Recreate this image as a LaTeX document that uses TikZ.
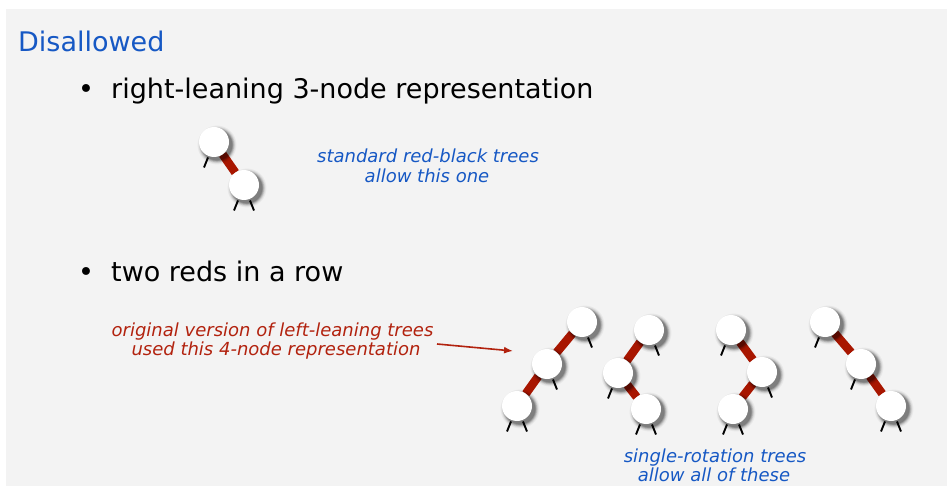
\documentclass[tikz,border=0pt]{standalone}
\usepackage{fontspec}
\setmainfont{DejaVu Sans}
\usetikzlibrary{arrows.meta}
\pgfdeclarelayer{bgl}
\pgfdeclarelayer{edges}
\pgfdeclarelayer{shade}
\pgfsetlayers{bgl,edges,shade,main}
\definecolor{slidegray}{RGB}{243,243,243}
\definecolor{titleblue}{RGB}{22,88,196}
\definecolor{notered}{RGB}{178,34,14}
\definecolor{edgered}{RGB}{168,22,0}
\newcommand\legLeft[1]{\draw[legline] ([shift={(-6,15.5)}]#1.center) -- ([shift={(-10,25.5)}]#1.center);}
\newcommand\legRight[1]{\draw[legline] ([shift={(6,15.5)}]#1.center) -- ([shift={(10,25.5)}]#1.center);}
\newcommand\softShadow[1]{%
  \foreach \rr/\oo in {19.5/0.04,18.5/0.05,17.8/0.07,17.2/0.08,16.6/0.1,16/0.12,15.4/0.14}{%
    \fill[black, opacity=\oo] ([shift={(3,3)}]#1.center) circle (\rr pt);}}
\begin{document}
\begin{tikzpicture}[x=1pt,y=-1pt,
  rb/.style={circle, fill=white, minimum size=30pt, inner sep=0pt},
  redlink/.style={draw=edgered, line width=8.5pt},
  legline/.style={draw=black, line width=1.9pt},
  bigtext/.style={font=\fontsize{27}{32}\selectfont, inner sep=0pt, anchor=base west},
  bulletmark/.style={font=\fontsize{27}{32}\selectfont, inner sep=0pt, anchor=base},
  bluenote/.style={font=\fontsize{18}{20}\selectfont\itshape, text=titleblue, inner sep=0pt, anchor=base},
  rednote/.style={font=\fontsize{18}{20}\selectfont\itshape, text=notered, inner sep=0pt, anchor=base},
  pointer/.style={draw=notered, line width=1.6pt, -{Latex[length=9pt,width=7pt]}}
]
\useasboundingbox (0,0) rectangle (947,486);
\begin{pgfonlayer}{bgl}
  \fill[white] (0,0) rectangle (947,486);
  \fill[slidegray] (6,9) rectangle (947,486);
\end{pgfonlayer}

% texts
\node[bigtext, text=titleblue] (title) at (18,51.5) {Disallowed};
\node[bulletmark] (b1) at (86,98.5) {•};
\node[bigtext] (t1) at (111,98.5) {right-leaning 3-node representation};
\node[bulletmark] (b2) at (86,281.5) {•};
\node[bigtext] (t2) at (111,281.5) {two reds in a row};

\node[bluenote] (s1) at (428,163) {standard red-black trees};
\node[bluenote] (s2) at (427,183) {allow this one};

\node[rednote] (o1) at (272.5,336) {original version of left-leaning trees};
\node[rednote] (o2) at (276,355) {used this 4-node representation};

\node[bluenote] (r1) at (715,462.5) {single-rotation trees};
\node[bluenote] (r2) at (714,481) {allow all of these};

% nodes
\node[rb] (A) at (214,142) {};
\node[rb] (B) at (244,185) {};

\node[rb] (p1) at (582,322) {};
\node[rb] (p2) at (547,364) {};
\node[rb] (p3) at (517,406) {};

\node[rb] (q1) at (649,330) {};
\node[rb] (q2) at (618,373) {};
\node[rb] (q3) at (646,409) {};

\node[rb] (u1) at (731,330) {};
\node[rb] (u2) at (762,372) {};
\node[rb] (u3) at (733,409) {};

\node[rb] (v1) at (825,322) {};
\node[rb] (v2) at (861,364) {};
\node[rb] (v3) at (891,406) {};

\begin{pgfonlayer}{shade}
  \foreach \nn in {A,B,p1,p2,p3,q1,q2,q3,u1,u2,u3,v1,v2,v3}{\softShadow{\nn}}
\end{pgfonlayer}

\begin{pgfonlayer}{edges}
  \draw[redlink] (A) -- (B);
  \draw[redlink] (p1) -- (p2);
  \draw[redlink] (p2) -- (p3);
  \draw[redlink] (q1) -- (q2);
  \draw[redlink] (q2) -- (q3);
  \draw[redlink] (u1) -- (u2);
  \draw[redlink] (u2) -- (u3);
  \draw[redlink] (v1) -- (v2);
  \draw[redlink] (v2) -- (v3);
  \legLeft{A}
  \legLeft{B}\legRight{B}
  \legRight{p1}
  \legRight{p2}
  \legLeft{p3}\legRight{p3}
  \legRight{q1}
  \legLeft{q2}
  \legLeft{q3}\legRight{q3}
  \legLeft{u1}
  \legRight{u2}
  \legLeft{u3}\legRight{u3}
  \legLeft{v1}
  \legLeft{v2}
  \legLeft{v3}\legRight{v3}
\end{pgfonlayer}

% arrow
\coordinate (arrS) at (437,344);
\coordinate (arrE) at (513,351);
\draw[pointer] (arrS) -- (arrE);
\end{tikzpicture}
\end{document}
